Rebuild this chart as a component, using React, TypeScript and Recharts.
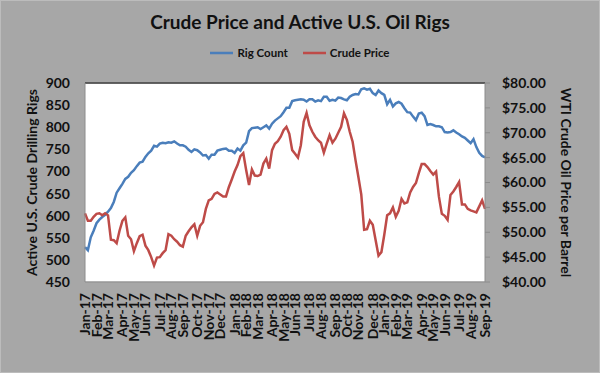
import { LineChart, Line, XAxis, YAxis, CartesianGrid, ReferenceLine } from 'recharts';

// weekly values, Jan 2017 - Sep 2019
const rigCount = [
  529, 522, 551, 566, 583, 591, 597, 602, 609, 617,
  631, 652, 662, 672, 683, 688, 697, 703, 712, 720,
  722, 733, 741, 747, 758, 756, 763, 765, 764, 766,
  765, 768, 763, 759, 759, 756, 749, 744, 750, 748,
  743, 736, 737, 729, 738, 738, 747, 749, 751, 752,
  747, 747,
  742, 752, 747, 759, 765, 791, 798, 799, 800, 796,
  800, 804, 797, 808, 815, 820, 825, 834, 844, 844,
  859, 861, 862, 863, 862, 858, 863, 863, 858, 861,
  859, 869, 869, 860, 862, 860, 867, 866, 863, 861,
  869, 873, 875, 874, 886, 888, 885, 887, 877, 873,
  883, 877,
  873, 852, 862, 847, 854, 857, 853, 843, 834, 833,
  824, 816, 831, 833, 825, 805, 807, 805, 802, 802,
  800, 789, 788, 789, 793, 788, 784, 779, 776, 770,
  764, 773, 755, 742, 735, 732,
];

const crudePrice = [
  53.8, 52.3, 52.3, 53.1, 53.7, 53.8, 53.4, 53.8, 53.4, 48.5,
  48.4, 47.8, 50.3, 52.3, 53.0, 49.3, 48.6, 46.2, 47.8, 49.2,
  49.5, 47.3, 46.4, 45.0, 43.3, 44.9, 45.0, 45.8, 46.4, 49.6,
  49.3, 48.6, 48.1, 47.4, 47.1, 49.3, 50.2, 51.0, 51.6, 49.3,
  51.3, 52.0, 54.7, 56.4, 56.7, 57.7, 58.0, 57.6, 57.2, 57.2,
  59.1, 60.6, 62.2, 63.5, 65.3, 65.9, 62.5, 59.5, 62.6, 61.4,
  61.3, 61.6, 63.8, 64.8, 62.8, 66.5, 67.8, 68.3, 69.2, 70.5,
  71.2, 69.8, 66.5, 65.8, 65.0, 67.5, 72.2, 74.0, 71.5, 70.2,
  69.2, 68.5, 68.0, 66.0, 67.8, 69.5, 68.0, 68.8, 70.0, 71.2,
  73.9, 72.6, 70.2, 68.2, 64.5, 61.1, 57.6, 50.5, 50.6, 52.3,
  51.5, 48.4, 45.3, 46.0, 49.5, 53.4, 53.8, 55.0, 53.1, 54.3,
  56.7, 55.8, 56.0, 58.0, 59.1, 59.9, 61.9, 63.7, 63.7, 63.1,
  62.3, 61.6, 62.2, 57.1, 53.7, 53.3, 52.5, 57.5, 58.2, 59.1,
  60.1, 55.6, 55.6, 54.7, 54.4, 54.2, 54.0, 55.2, 56.4, 54.7,
];

// first week of each month
const monthTicks = [0, 4, 8, 13, 17, 21, 26, 30, 34, 39, 43, 47, 52, 56, 60, 65, 69, 73, 78, 82, 87, 91, 95, 100, 104, 108, 112, 117, 121, 125, 130, 134, 139];
const monthLabels = [
  'Jan-17', 'Feb-17', 'Mar-17', 'Apr-17', 'May-17', 'Jun-17', 'Jul-17', 'Aug-17', 'Sep-17', 'Oct-17', 'Nov-17', 'Dec-17',
  'Jan-18', 'Feb-18', 'Mar-18', 'Apr-18', 'May-18', 'Jun-18', 'Jul-18', 'Aug-18', 'Sep-18', 'Oct-18', 'Nov-18', 'Dec-18',
  'Jan-19', 'Feb-19', 'Mar-19', 'Apr-19', 'May-19', 'Jun-19', 'Jul-19', 'Aug-19', 'Sep-19',
];

const rigTicks = [450, 500, 550, 600, 650, 700, 750, 800, 850, 900];
const priceTicks = [40, 45, 50, 55, 60, 65, 70, 75, 80];

const FONT = 'Lato, Carlito, sans-serif';
const BLUE = '#4a7ebb';
const RED = '#be4b48';

const series = [
  { key: 'rigs', name: 'Rig Count', color: BLUE },
  { key: 'crude', name: 'Crude Price', color: RED },
];

const data = rigCount.map((rigs, i) => ({ week: i, rigs, crude: crudePrice[i] }));

const XTick = ({ x, y, payload }: any) => {
  const label = monthLabels[monthTicks.indexOf(payload.value)];
  return (
    <text x={x} y={y} dy="0.36em" transform={`rotate(-90 ${x} ${y})`} textAnchor="end"
      fontFamily={FONT} fontWeight={700} fontSize={14} fill="#111">
      {label}
    </text>
  );
};

export default function App() {
  return (
    <div style={{ position: 'absolute', left: 0, top: 0, width: 600, height: 373, background: '#a7a7a7', boxSizing: 'border-box', border: '1px solid #bcbcbc' }}>
      <div style={{ position: 'absolute', top: 9, left: 0, width: 598, textAlign: 'center', fontFamily: FONT, fontWeight: 700, fontSize: 19, color: '#111' }}>
        Crude Price and Active U.S. Oil Rigs
      </div>
      {/* legend */}
      <div style={{ position: 'absolute', top: 45, left: 0, width: 598, display: 'flex', justifyContent: 'center', gap: 15, fontFamily: FONT, fontWeight: 700, fontSize: 11.5, color: '#111' }}>
        {series.map(s => (
          <div key={s.key} style={{ display: 'flex', alignItems: 'center', gap: 4 }}>
            <svg width={23} height={4}><line x1={0} y1={2} x2={23} y2={2} stroke={s.color} strokeWidth={2.5} /></svg>
            <span>{s.name}</span>
          </div>
        ))}
      </div>
      <LineChart width={598} height={371} data={data} margin={{ top: 82, right: 0, bottom: 0, left: 0 }}>
        <CartesianGrid vertical={false} horizontal stroke="#a9a9a9" fill="#ffffff" fillOpacity={1} />
        <XAxis dataKey="week" type="number" domain={[0, 139]} ticks={monthTicks} interval={0}
          tick={<XTick />} tickLine={false} tickSize={0} tickMargin={11} height={90}
          axisLine={{ stroke: '#8c8c8c' }} />
        <YAxis yAxisId="rigs" domain={[450, 900]} ticks={rigTicks} interval={0} width={84}
          tickLine={false} tickSize={6} tickMargin={9} axisLine={{ stroke: '#8c8c8c' }}
          tick={{ fontFamily: FONT, fontWeight: 700, fontSize: 14, fill: '#111' }}
          label={{ value: 'Active U.S. Crude Drilling Rigs', angle: -90, position: 'insideLeft', offset: 31, style: { fontFamily: FONT, fontWeight: 700, fontSize: 14, fill: '#111', textAnchor: 'middle' } }} />
        <YAxis yAxisId="price" orientation="right" domain={[40, 80]} ticks={priceTicks} interval={0} width={114}
          tickSize={5} tickMargin={12} tickLine={{ stroke: '#8c8c8c' }} axisLine={{ stroke: '#8c8c8c' }}
          tickFormatter={(v: number) => `$${v.toFixed(2)}`}
          tick={{ fontFamily: FONT, fontWeight: 700, fontSize: 14, fill: '#111' }}
          label={{ value: 'WTI Crude Oil Price per Barrel', angle: 90, position: 'insideRight', offset: 33, style: { fontFamily: FONT, fontWeight: 700, fontSize: 14, fill: '#111', textAnchor: 'middle' } }} />
        <ReferenceLine yAxisId="rigs" y={900} stroke="#3f3f3f" strokeWidth={1.5} />
        {series.map(s => (
          <Line key={s.key} yAxisId={s.key === 'rigs' ? 'rigs' : 'price'} dataKey={s.key} name={s.name}
            stroke={s.color} strokeWidth={2.5} dot={false} isAnimationActive={false} />
        ))}
      </LineChart>
    </div>
  );
}
